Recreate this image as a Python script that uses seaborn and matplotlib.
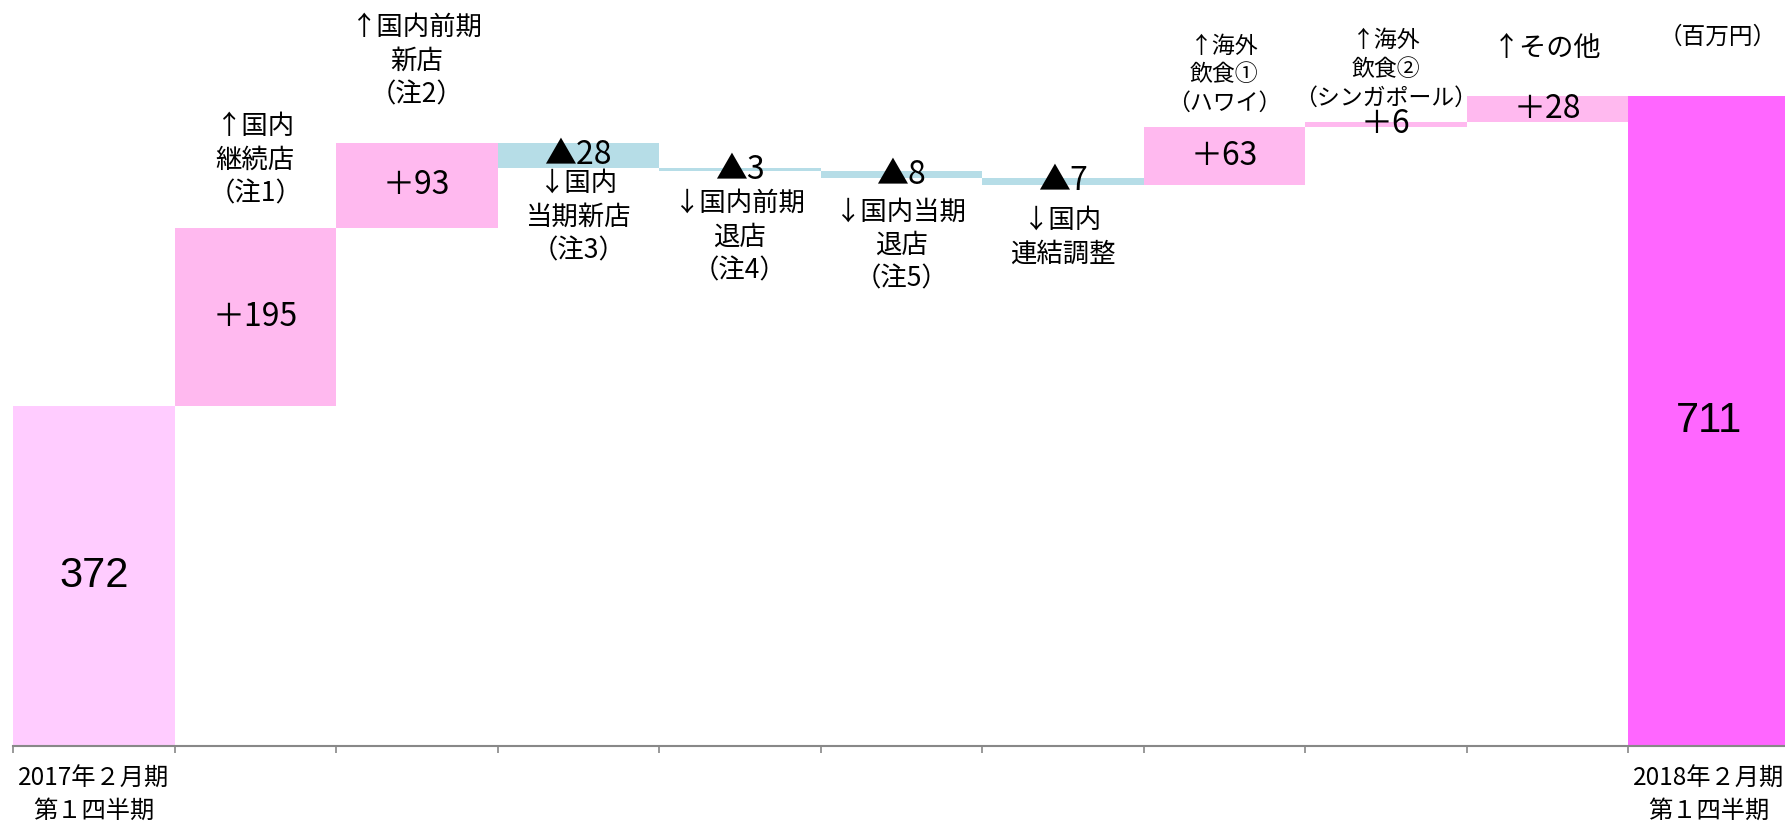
import numpy as np
import pandas as pd
import matplotlib
matplotlib.use('Agg')
import matplotlib.pyplot as plt
import seaborn as sns

# data (百万円)
steps = ['start', 'dom_cont', 'dom_prev_new', 'dom_cur_new', 'dom_prev_close',
         'dom_cur_close', 'dom_adj', 'hawaii', 'singapore', 'other', 'end']
values = [372, 195, 93, -28, -3, -8, -7, 63, 6, 28, 711]
kinds = ['total', 'up', 'up', 'down', 'down', 'down', 'down', 'up', 'up', 'up', 'total']
notes = ['', '↑国内\n継続店\n（注1）', '↑国内前期\n新店\n（注2）', '↓国内\n当期新店\n（注3）',
         '↓国内前期\n退店\n（注4）', '↓国内当期\n退店\n（注5）', '↓国内\n連結調整',
         '↑海外\n飲食①\n（ハワイ）', '↑海外\n飲食②\n（シンガポール）', '↑その他', '']
period_labels = ['2017年２月期\n第１四半期', '2018年２月期\n第１四半期']
unit_label = '（百万円）'

# waterfall geometry from the values
start, end = [], []
level = 0
for v, k in zip(values, kinds):
    if k == 'total':
        start.append(0)
        end.append(v)
        level = v
    else:
        start.append(level)
        level += v
        end.append(level)

df = pd.DataFrame({'step': steps, 'value': values, 'kind': kinds,
                   'top': np.maximum(start, end), 'low': np.minimum(start, end)})

colors = {'start': '#FFCCFF', 'up': '#FFB9EF', 'down': '#B6DDE7', 'end': '#FF66FF'}
palette = []
for i, k in enumerate(kinds):
    if k == 'total':
        palette.append(colors['start'] if i == 0 else colors['end'])
    else:
        palette.append(colors[k])

cjk = ['Noto Sans CJK JP', 'DejaVu Sans']
plt.rcParams['font.family'] = cjk

fig = plt.figure(figsize=(17.85, 8.27), dpi=100)
ax = fig.add_axes([13 / 1785, 81 / 827, 1776.5 / 1785, 800 * 0.9142 / 827])

sns.barplot(data=df, x='step', y='top', hue='step', palette=palette, width=1.0,
            linewidth=0, legend=False, ax=ax, order=steps, hue_order=steps,
            saturation=1)
# white base hides the part below each floating step
sns.barplot(data=df, x='step', y='low', color='white', width=1.0, linewidth=0,
            ax=ax, order=steps, saturation=1)

ax.set_xlim(-0.5, len(steps) - 0.5)
ax.set_ylim(0, 800)
ax.set_xlabel('')
ax.set_ylabel('')
ax.set_yticks([])
for s in ['top', 'right', 'left']:
    ax.spines[s].set_visible(False)
ax.spines['bottom'].set_color('#888888')
ax.spines['bottom'].set_linewidth(1.5)

ax.set_xticks(np.arange(-0.5, len(steps) - 0.5, 1.0))
ax.set_xticklabels([])
ax.tick_params(axis='x', which='major', direction='out', length=5, width=1.2, color='#888888')
ax.set_xticks([0, len(steps) - 1], minor=True)
ax.set_xticklabels(period_labels, minor=True, fontsize=17.5, linespacing=1.3)
ax.tick_params(axis='x', which='minor', length=0, pad=14)

# values inside bars
for i, (v, k) in enumerate(zip(values, kinds)):
    mid = (start[i] + end[i]) / 2
    if k == 'total':
        ax.text(i, mid, str(v), ha='center', va='center', fontsize=30,
                family='Liberation Sans')
    else:
        txt = ('＋' if k == 'up' else '▲') + str(abs(v))
        ax.text(i, mid, txt, ha='center', va='center', fontsize=23)

# category notes above rises, below falls (offsets in px)
note_size = [0, 19, 19, 19, 19, 19, 19, 16.5, 16.5, 19.5, 0]
note_gap = [0, 20, 34, 2, 19, 20, 22, 12, 12, 34, 0]
for i, (n, k) in enumerate(zip(notes, kinds)):
    if not n:
        continue
    if k == 'up':
        ax.annotate(n, (i, max(start[i], end[i])), xytext=(0, note_gap[i] * 0.72),
                    textcoords='offset points', ha='center', va='bottom',
                    fontsize=note_size[i], linespacing=1.32, annotation_clip=False)
    else:
        ax.annotate(n, (i, min(start[i], end[i])), xytext=(0, -note_gap[i] * 0.72),
                    textcoords='offset points', ha='center', va='top',
                    fontsize=note_size[i], linespacing=1.32, annotation_clip=False)

fig.text(1718 / 1785, 1 - 37 / 827, unit_label, ha='center', va='center', fontsize=17)

fig.savefig('out.png', dpi=100)
